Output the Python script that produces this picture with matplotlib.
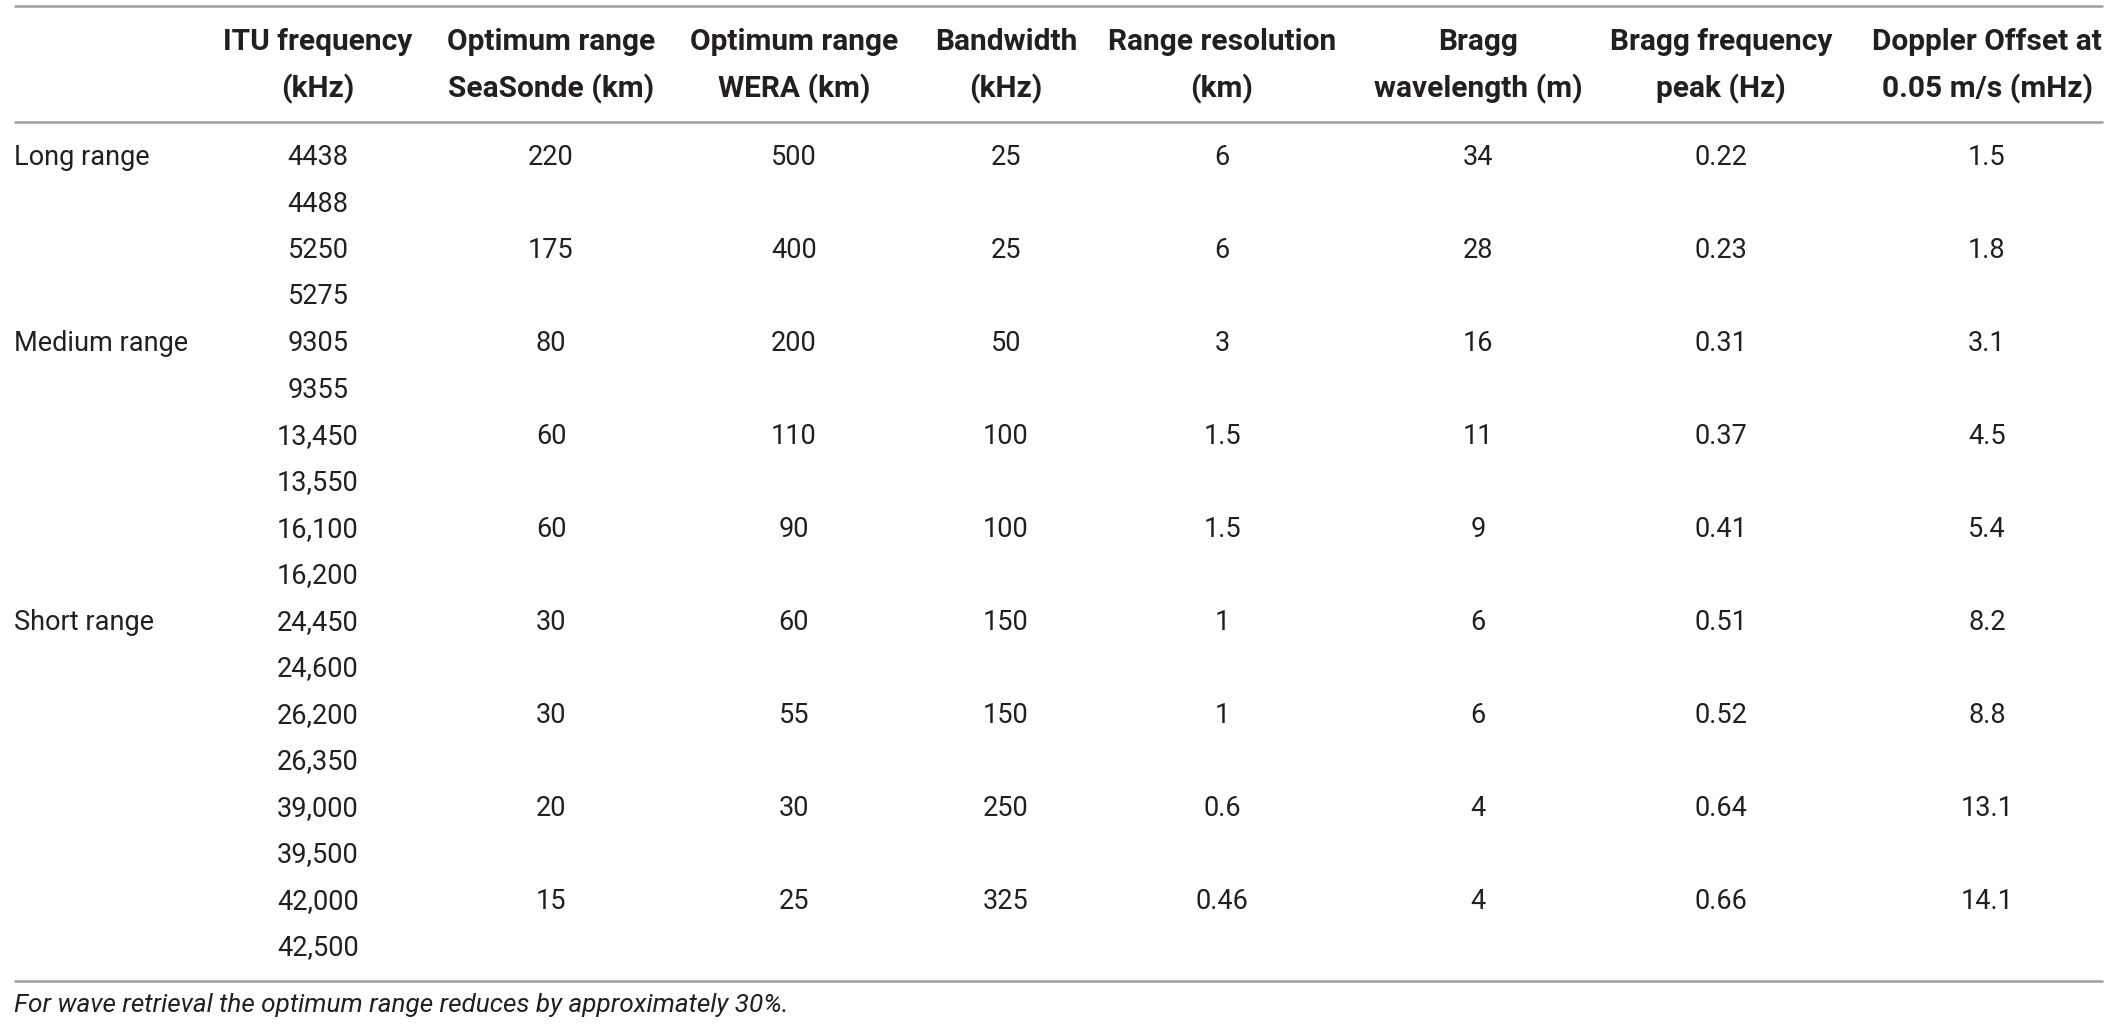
import matplotlib
matplotlib.use('Agg')
import matplotlib.pyplot as plt

plt.rcParams['font.family'] = ['Roboto', 'DejaVu Sans']

# table data, one entry per frequency band
band_class = ['Long range', '', 'Medium range', '', '', 'Short range', '', '', '']
itu_freq = [('4438', '4488'), ('5250', '5275'), ('9305', '9355'),
            ('13,450', '13,550'), ('16,100', '16,200'), ('24,450', '24,600'),
            ('26,200', '26,350'), ('39,000', '39,500'), ('42,000', '42,500')]
range_seasonde = ['220', '175', '80', '60', '60', '30', '30', '20', '15']
range_wera = ['500', '400', '200', '110', '90', '60', '55', '30', '25']
bandwidth = ['25', '25', '50', '100', '100', '150', '150', '250', '325']
range_res = ['6', '6', '3', '1.5', '1.5', '1', '1', '0.6', '0.46']
bragg_wl = ['34', '28', '16', '11', '9', '6', '6', '4', '4']
bragg_freq = ['0.22', '0.23', '0.31', '0.37', '0.41', '0.51', '0.52', '0.64', '0.66']
doppler = ['1.5', '1.8', '3.1', '4.5', '5.4', '8.2', '8.8', '13.1', '14.1']

headers = ['ITU frequency\n(kHz)', 'Optimum range\nSeaSonde (km)', 'Optimum range\nWERA (km)',
           'Bandwidth\n(kHz)', 'Range resolution\n(km)', 'Bragg\nwavelength (m)',
           'Bragg frequency\npeak (Hz)', 'Doppler Offset at\n0.05 m/s (mHz)']
footnote = 'For wave retrieval the optimum range reduces by approximately 30%.'

W, H = 2107, 1029
fig = plt.figure(figsize=(W / 100, H / 100), dpi=100)
ax = fig.add_axes([0, 0, 1, 1])
ax.set_xlim(0, W)
ax.set_ylim(H, 0)
ax.axis('off')

txt = '#231f20'
rule = '#a0a0a0'
fs = 19.5
hfs = 21.5
col_x = [318, 551, 794, 1006, 1222, 1478, 1721, 1987]
left = 14
right = 2103
row0 = 156
pitch = 46.5
base = 9  # baseline offset from glyph centre

for y in [6, 122, 981]:
    ax.plot([left, right], [y, y], color=rule, lw=1.8, solid_capstyle='butt')

for x, h in zip(col_x, headers):
    l1, l2 = h.split('\n')
    ax.text(x, 40 + 10, l1, ha='center', va='baseline', fontsize=hfs, fontweight='bold', color=txt)
    ax.text(x, 87 + 10, l2, ha='center', va='baseline', fontsize=hfs, fontweight='bold', color=txt)

cols = [range_seasonde, range_wera, bandwidth, range_res, bragg_wl, bragg_freq, doppler]
for i in range(len(itu_freq)):
    y = row0 + 2 * i * pitch
    if band_class[i]:
        ax.text(left, y + base, band_class[i], ha='left', va='baseline', fontsize=fs,
                fontweight='normal', color=txt)
    ax.text(col_x[0], y + base, itu_freq[i][0], ha='center', va='baseline', fontsize=fs,
            fontweight='normal', color=txt)
    ax.text(col_x[0], y + pitch + base, itu_freq[i][1], ha='center', va='baseline', fontsize=fs,
            fontweight='normal', color=txt)
    for x, c in zip(col_x[1:], cols):
        ax.text(x, y + base, c[i], ha='center', va='baseline', fontsize=fs,
                fontweight='normal', color=txt)

ax.text(left, 1003 + base, footnote, ha='left', va='baseline', fontsize=18.8,
        fontstyle='italic', fontweight='normal', color=txt)

fig.savefig('out.png', dpi=100)
